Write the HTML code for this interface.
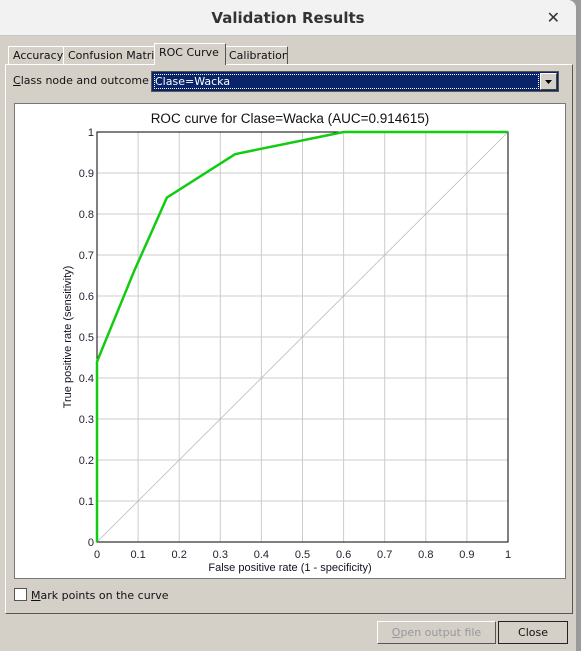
<!DOCTYPE html>
<html><head><meta charset="utf-8"><style>
body{margin:0;width:581px;height:651px;overflow:hidden;background:#9a9a9a;font-family:"Liberation Sans",sans-serif;}
#win{position:absolute;left:0;top:0;width:576px;height:651px;background:#d4d0c8;border-top-right-radius:8px;overflow:hidden}
#title{position:absolute;left:0;top:0;width:576px;height:35px;background:#f2f2f2;border-bottom:1px solid #c8c8c8;text-align:center;line-height:36px;font-weight:bold;font-size:15px;color:#333;font-family:"DejaVu Sans",sans-serif}
#x{position:absolute;right:16px;top:0;font-size:16px;font-weight:bold;color:#333}
.tab{position:absolute;top:46px;height:18px;border:1px solid #fff;border-right:1px solid #555;border-bottom:none;font-size:11px;line-height:18px;padding-left:4px;font-family:"DejaVu Sans",sans-serif;overflow:hidden;white-space:nowrap;color:#111}
#panel{position:absolute;left:5px;top:64px;width:566px;height:548px;border:1px solid #fff;border-right-color:#555;border-bottom-color:#555}
.lbl{position:absolute;font-size:11px;font-family:"DejaVu Sans",sans-serif;color:#111}
#dd{position:absolute;left:151px;top:71px;width:406px;height:19px;border:1px solid #555;background:#0a246a}
#ddt{position:absolute;left:2px;top:2px;width:383px;height:13px;border:1px dotted #fff;color:#fff;font-size:11px;line-height:13px;font-family:"DejaVu Sans",sans-serif}
#ddb{position:absolute;right:1px;top:1px;width:15px;height:15px;background:#d4d0c8;border:1px solid #fff;border-right-color:#444;border-bottom-color:#444}
#chart{position:absolute;left:14px;top:103px;width:550px;height:474px;background:#fff;border:1px solid #777}
.btn{position:absolute;top:621px;height:21px;font-size:11px;line-height:21px;text-align:center;font-family:"DejaVu Sans",sans-serif;border:1px solid #fff;border-right-color:#555;border-bottom-color:#555}
</style></head><body>
<div id="win">
<div id="title">Validation Results<span id="x">✕</span></div>
<div class="tab" style="left:8px;width:50px">Accuracy</div>
<div class="tab" style="left:63px;width:117px">Confusion Matrix</div>
<div class="tab" style="left:153px;top:43px;height:21px;width:66px;background:#d4d0c8;z-index:2;left:154px">ROC Curve</div>
<div class="tab" style="left:224px;width:58px">Calibration</div>
<div id="panel"></div>
<div class="lbl" style="left:13px;top:74px"><u>C</u>lass node and outcome</div>
<div id="dd"><div id="ddt">Clase=Wacka</div><div id="ddb"><svg width="15" height="15"><polygon points="4,6 11,6 7.5,10" fill="#000"/></svg></div></div>
<div id="chart">
<svg id="svg" width="550" height="474" style="position:absolute;left:0;top:0"></svg>
</div>
<div style="position:absolute;left:14px;top:588px;width:11px;height:11px;background:#fff;border:1px solid #555"></div>
<div class="lbl" style="left:31px;top:589px"><u>M</u>ark points on the curve</div>
<div class="btn" style="left:377px;width:117px;color:#999"><u>O</u>pen output file</div>
<div class="btn" style="left:498px;width:68px;border:1px solid #222;color:#111">Close</div>
</div>
<script>
const fpr=[0,0,0.09,0.17,0.336,0.6,1];
const tpr=[0,0.44,0.66,0.84,0.946,1,1];
const ticks=[0,0.1,0.2,0.3,0.4,0.5,0.6,0.7,0.8,0.9,1];
const tickLabels=["0","0.1","0.2","0.3","0.4","0.5","0.6","0.7","0.8","0.9","1"];
const ox=14,oy=103;
const X=v=>96-ox+v*411, Y=v=>541-oy-v*410;
const s=document.getElementById('svg');const NS="http://www.w3.org/2000/svg";
function el(t,a,txt){const e=document.createElementNS(NS,t);for(const k in a)e.setAttribute(k,a[k]);if(txt!==undefined)e.textContent=txt;s.appendChild(e);return e;}
ticks.forEach((t,i)=>{
 let g=el('line',{x1:X(t),x2:X(t),y1:Y(0),y2:Y(1),stroke:'#ccc'});
 
 let h=el('line',{x1:X(0),x2:X(1),y1:Y(t),y2:Y(t),stroke:'#ccc'});
 
 let a=el('text',{x:X(t),y:Y(0)+16,'font-size':11,'text-anchor':'middle',fill:'#223'},tickLabels[i]);
 
 let b=el('text',{x:X(0)-3,y:Y(t)+4,'font-size':11,'text-anchor':'end',fill:'#223'},tickLabels[i]);
 
});
let d=el('line',{x1:X(0),y1:Y(0),x2:X(1),y2:Y(1),stroke:'#bbb','stroke-width':0.8});

let ax=el('path',{d:`M${X(0)},${Y(1)}H${X(1)}V${Y(0)}H${X(0)}Z`,fill:'none',stroke:'#000'});

let c=el('polyline',{points:fpr.map((f,i)=>X(f)+','+Y(tpr[i])).join(' '),fill:'none',stroke:'#11cc11','stroke-width':2.5});

let t=el('text',{x:275,y:19,'font-size':13.5,'text-anchor':'middle',fill:'#111'},'ROC curve for Clase=Wacka (AUC=0.914615)');

let xt=el('text',{x:275,y:467,'font-size':11,'text-anchor':'middle',fill:'#112'},'False positive rate (1 - specificity)');

let yt=el('text',{x:0,y:0,'font-size':11,'text-anchor':'middle',fill:'#112',transform:`translate(56,233) rotate(-90)`},'True positive rate (sensitivity)');

</script>
</body></html>
